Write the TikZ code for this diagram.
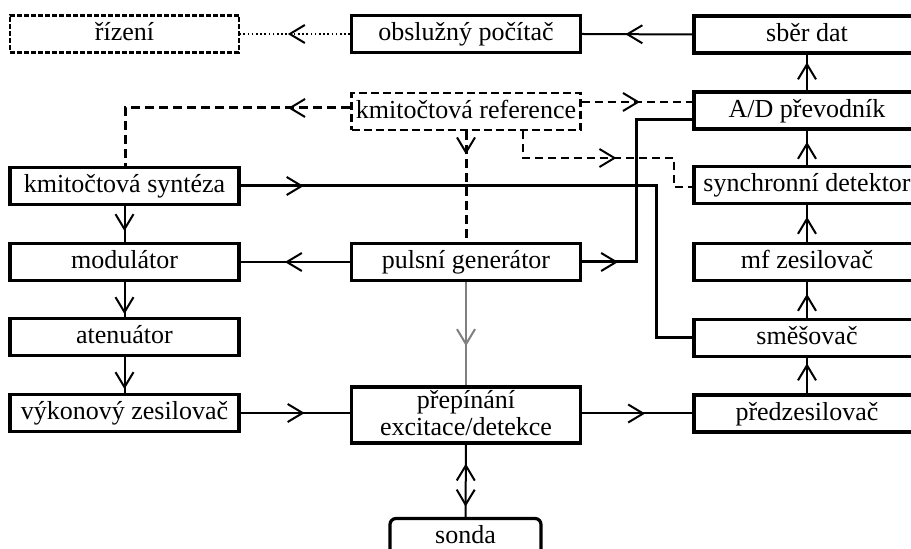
\documentclass[tikz,border=0pt]{standalone}
\usepackage{fontspec}
\setmainfont{Liberation Serif}
\usetikzlibrary{arrows.meta,decorations.markings,calc}
\tikzset{
  x=0.5pt, y=-0.5pt,
  tip/.tip={Straight Barb[length=7.5pt,width=9pt,line width'=1pt]},
  ma/.style={postaction={decorate},decoration={markings,mark=at position #1 with {\arrow{tip}}}},
  box/.style={draw, line width=1.6pt, minimum width=114.5pt, minimum height=18.5pt,
    inner sep=0pt, text height=9.5pt, text depth=2.5pt, font=\fontsize{13}{14}\selectfont},
  rbox/.style={box, minimum width=113pt},
  dbox/.style={box, line width=1.4pt, dash pattern=on 4pt off 2pt},
  fbox/.style={box, line width=1.3pt, dash pattern=on 2.5pt off 1pt},
  conn/.style={line width=1pt},
  thickconn/.style={line width=1.5pt},
  dashthick/.style={line width=1.5pt, dash pattern=on 4.5pt off 2.5pt},
  dashconn/.style={line width=1pt, dash pattern=on 4pt off 2.5pt},
  dotconn/.style={line width=1pt, dash pattern=on 0.8pt off 1.3pt},
}
\begin{document}
\begin{tikzpicture}
\useasboundingbox (0,0) rectangle (911,549);
\clip (0,0) rectangle (911,549);
% nodes
\node[fbox] (riz) at (124.5,34) {řízení};
\node[box] (obs) at (466,34) {obslužný počítač};
\node[rbox] (sber) at (807,34.5) {sběr dat};
\node[dbox] (ref) at (466,111.5) {kmitočtová reference};
\node[rbox] (ad) at (807,110.5) {A/D převodník};
\node[box] (synt) at (124.5,186) {kmitočtová syntéza};
\node[rbox] (synch) at (807,185) {synchronní detektor};
\node[box] (mod) at (124.5,262) {modulátor};
\node[box] (puls) at (466,262) {pulsní generátor};
\node[rbox] (mf) at (807,262) {mf zesilovač};
\node[box] (aten) at (124.5,337) {atenuátor};
\node[rbox] (smes) at (807,338) {směšovač};
\node[box] (vyk) at (124.5,413) {výkonový zesilovač};
\node[box, minimum height=28pt, text height=23.5pt, text depth=2.5pt, align=center] (prep) at (466,415) {přepínání\\[-0.5pt]excitace/detekce};
\node[rbox] (pred) at (807,413.5) {předzesilovač};
\node[box, minimum width=75.5pt, rounded corners=3pt] (sonda) at (465.5,537) {sonda};
% coordinates
\coordinate (k1) at (600,102);
\coordinate (k2) at (125,108);
\coordinate (k3) at (523,158);
\coordinate (k4) at (674,158);
\coordinate (k5) at (674,187);
\coordinate (k6) at (656,187);
\coordinate (k7) at (636,120);
% connectors
\draw[conn, ma=33.5pt] (sber.west) -- (obs.east);
\draw[dotconn, ma=31pt] (obs.west) -- (riz.east);
\draw[conn, ma=14pt] (ad.north) -- (sber.south);
\draw[dashconn, ma=29pt] (ref.east |- k1) -- (ad.west |- k1);
\draw[dashthick, ma=31pt] (ref.west |- k2) -- (k2) -- (k2 |- synt.north);
\draw[dashthick, ma=11.5pt] (ref.south) -- (puls.north);
\draw[dashconn, ma=60pt] (ref.south -| k3) -- (k3) -- (k4) -- (k5) -- (synch.west |- k5);
\draw[thickconn, ma=31.5pt] (synt.east) -- (synt.east -| k6) -- (k6 |- smes.west) -- (smes.west);
\draw[conn, ma=12.5pt] (synt.south) -- (mod.north);
\draw[conn, ma=32.5pt] (puls.west) -- (mod.east);
\draw[thickconn, ma=18pt] (puls.east) -- (puls.east -| k7) -- (k7) -- (ad.west |- k7);
\draw[conn, ma=16pt] (mod.south) -- (aten.north);
\draw[conn, ma=16pt] (aten.south) -- (vyk.north);
\draw[conn, ma=32pt] (vyk.east) -- (prep.west |- vyk.east);
\draw[conn, gray, ma=32pt] (puls.south) -- (prep.north);
\draw[conn, ma=31.5pt] (prep.east |- pred.west) -- (pred.west);
\draw[conn, ma=15pt] (pred.north) -- (smes.south);
\draw[conn, ma=12pt] (smes.north) -- (mf.south);
\draw[conn, ma=12.5pt] (mf.north) -- (synch.south);
\draw[conn, ma=11.5pt] (synch.north) -- (ad.south);
\draw[conn, postaction={decorate}, decoration={markings,
   mark=at position 9.5pt with {\arrowreversed{tip}},
   mark=at position 31pt with {\arrow{tip}}}] (prep.south) -- (sonda.north);
\end{tikzpicture}
\end{document}
